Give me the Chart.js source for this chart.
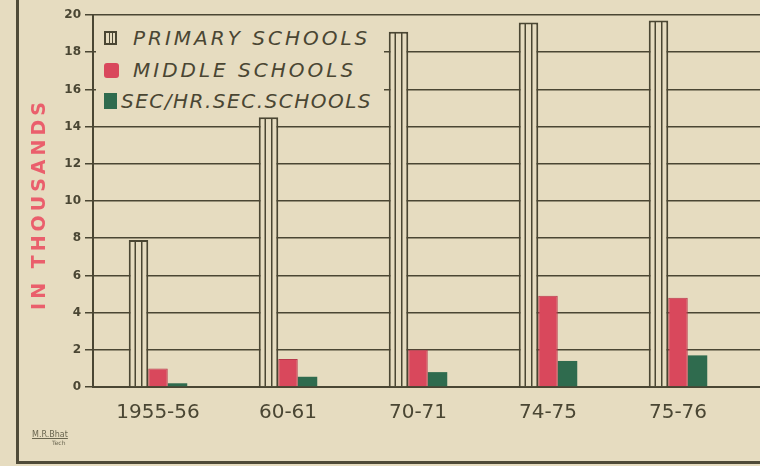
<!DOCTYPE html>
<html>
<head>
<meta charset="utf-8">
<script src="https://cdn.jsdelivr.net/npm/chart.js@4/dist/chart.umd.min.js"></script>
<style>
    html, body { margin: 0; padding: 0; width: 760px; height: 466px; overflow: hidden; background: #e6dcc0; }
    #sheet { position: relative; width: 760px; height: 466px; overflow: hidden; }
    #frame { position: absolute; left: 16px; top: 0; width: 760px; height: 461px; border-left: 3px solid #4f4b38; border-bottom: 3px solid #4f4b38; }
    #wrap { position: absolute; left: 0; top: 0; width: 880px; height: 466px; }
    #legend { position: absolute; left: 96px; top: 18px; width: 288px; height: 98px; background: #e6dcc0; }
    .row { position: absolute; left: 8px; height: 22px; display: flex; align-items: center; font-family: "DejaVu Sans", sans-serif; font-style: italic; font-size: 20px; letter-spacing: 3px; color: #4a4633; white-space: nowrap; }
    .ico { width: 13px; height: 14px; margin-right: 16px; box-sizing: border-box; }
    .ico.prim { border: 2px solid #4a4633; background: linear-gradient(90deg, transparent 3px, #4a4633 3px, #4a4633 4px, transparent 4px, transparent 6px, #4a4633 6px, #4a4633 7px, transparent 7px); }
    .ico.mid { background: #d9485c; border-radius: 3px; width: 15px; height: 15px; margin-right: 14px; }
    .ico.sec { background: #2f6b4e; height: 16px; margin-right: 4px; }
    #ytitle { position: absolute; left: 38px; top: 204px; transform: translate(-50%, -50%) rotate(-90deg); font-family: "DejaVu Sans", sans-serif; font-weight: bold; font-size: 19px; letter-spacing: 4px; color: #ea5f6c; white-space: nowrap; }
    #sign { position: absolute; left: 32px; top: 430px; font-family: "DejaVu Sans", sans-serif; font-size: 8px; color: #6a6650; }
    #sign span { display: block; }
</style>
</head>
<body>
<div id="sheet">
    <div id="frame"></div>
    <div id="wrap"><canvas id="chart"></canvas></div>
    <div id="legend">
        <div class="row" style="top:9px"><div class="ico prim"></div>PRIMARY SCHOOLS</div>
        <div class="row" style="top:41px"><div class="ico mid"></div>MIDDLE SCHOOLS</div>
        <div class="row" style="top:72px;letter-spacing:1.5px"><div class="ico sec"></div>SEC/HR.SEC.SCHOOLS</div>
    </div>
    <div id="ytitle">IN THOUSANDS</div>
    <div id="sign"><span style="text-decoration:underline">M.R.Bhat</span><span style="padding-left:20px;font-size:6px">Tech</span></div>
</div>
<script>
// --- DATOS (en miles) ---
const years = ['1955-56', '60-61', '70-71', '74-75', '75-76'];
const primarySchools = [7.9, 14.5, 19.1, 19.6, 19.7];
const middleSchools = [1.0, 1.5, 2.0, 4.9, 4.8];
const secSchools = [0.2, 0.55, 0.8, 1.4, 1.7];
const yTicks = [0, 2, 4, 6, 8, 10, 12, 14, 16, 18, 20];

const ink = '#4a4633';
const paper = '#e6dcc0';

// Líneas verticales internas de las barras de primaria
const primaryStripes = {
    id: 'primaryStripes',
    afterDatasetsDraw(chart) {
        const meta = chart.getDatasetMeta(0);
        const ctx = chart.ctx;
        ctx.save();
        ctx.strokeStyle = ink;
        ctx.lineWidth = 1.5;
        meta.data.forEach(bar => {
            const w = bar.width;
            [-w / 6, w / 6].forEach(dx => {
                ctx.beginPath();
                ctx.moveTo(bar.x + dx, bar.y + 1);
                ctx.lineTo(bar.x + dx, bar.base);
                ctx.stroke();
            });
        });
        ctx.restore();
    }
};

new Chart(document.getElementById('chart'), {
    type: 'bar',
    data: {
        labels: [...years, ''], // categoría vacía: la cuadrícula sigue hasta el borde
        datasets: [
            { label: 'PRIMARY SCHOOLS', data: primarySchools, backgroundColor: paper, borderColor: ink, borderWidth: 2, borderSkipped: 'bottom' },
            { label: 'MIDDLE SCHOOLS', data: middleSchools, backgroundColor: '#d9485c', borderColor: '#b83a4c', borderWidth: 1, borderSkipped: 'bottom' },
            { label: 'SEC/HR.SEC. SCHOOLS', data: secSchools, backgroundColor: '#2f6b4e', borderWidth: 0 }
        ]
    },
    options: {
        responsive: true,
        maintainAspectRatio: false,
        animation: false,
        layout: { padding: { top: 15, right: 7, left: 0, bottom: 0 } },
        categoryPercentage: 0.45,
        barPercentage: 1.0,
        plugins: { legend: { display: false }, tooltip: { enabled: false } },
        scales: {
            x: {
                grid: { display: false },
                border: { display: true, color: ink, width: 2 },
                ticks: { color: ink, padding: 6, font: { family: 'DejaVu Sans', size: 20 } },
                afterFit(s) { s.height = 79; }
            },
            y: {
                min: 0,
                max: 20,
                afterBuildTicks(s) { s.ticks = yTicks.map(v => ({ value: v })); },
                grid: { color: ink, lineWidth: 1.5, tickLength: 8 },
                border: { display: true, color: ink, width: 2 },
                ticks: { color: ink, padding: 4, font: { family: 'DejaVu Sans', size: 12, weight: 'bold' } },
                afterFit(s) { s.width = 93; }
            }
        }
    },
    plugins: [primaryStripes]
});
</script>
</body>
</html>
